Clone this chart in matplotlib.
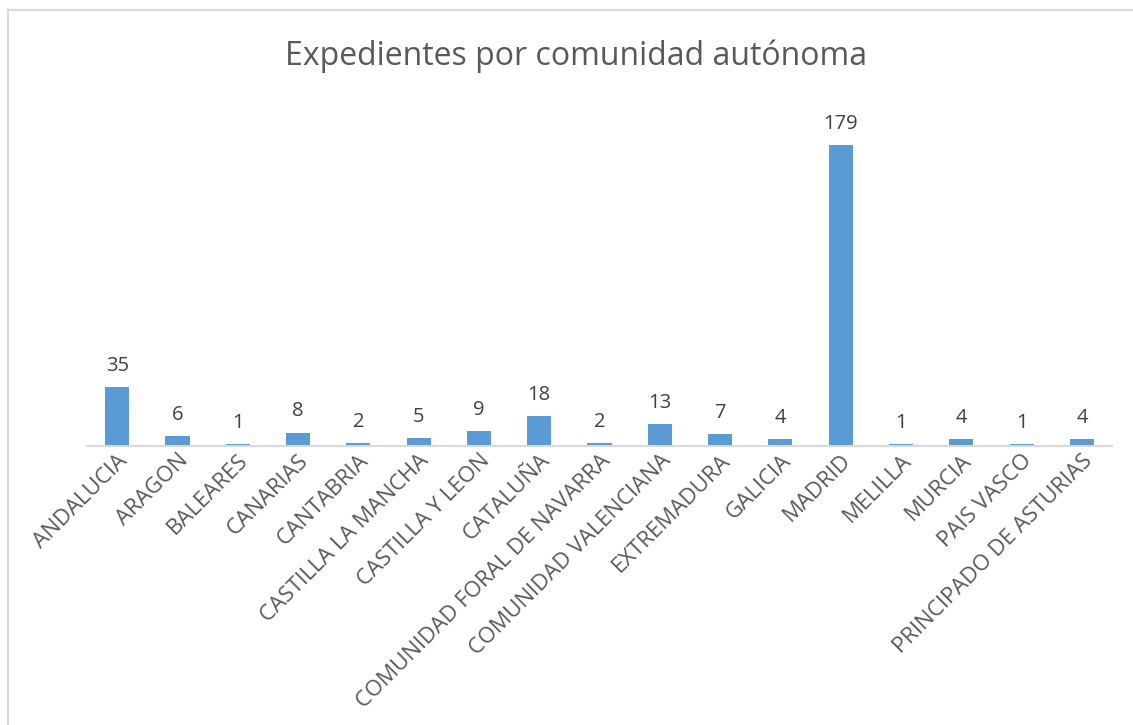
import matplotlib.pyplot as plt
import numpy as np

comunidades = ["ANDALUCIA", "ARAGON", "BALEARES", "CANARIAS", "CANTABRIA",
               "CASTILLA LA MANCHA", "CASTILLA Y LEON", "CATALUÑA",
               "COMUNIDAD FORAL DE NAVARRA", "COMUNIDAD VALENCIANA",
               "EXTREMADURA", "GALICIA", "MADRID", "MELILLA", "MURCIA",
               "PAIS VASCO", "PRINCIPADO DE ASTURIAS"]
expedientes = [35, 6, 1, 8, 2, 5, 9, 18, 2, 13, 7, 4, 179, 1, 4, 1, 4]

plt.rcParams['font.family'] = ['Open Sans', 'DejaVu Sans']

fig = plt.figure(figsize=(11.33, 7.25), dpi=100)
ax = fig.add_axes([0.0768, 0.3848, 0.9047, 0.4635])

x = np.arange(len(comunidades))
bars = ax.bar(x, expedientes, width=0.4, color="#5B9BD5")
ax.bar_label(bars, padding=8, fontsize=14.5, color="#404040")

ax.set_xlim(-0.5, len(comunidades) - 0.5)
ax.set_ylim(0, 200)
ax.set_xticks(x)
ax.set_xticklabels(comunidades, rotation=45, ha='right', rotation_mode='anchor',
                   fontsize=16, color="#595959")
ax.tick_params(axis='x', length=0, pad=3)
ax.set_yticks([])
for s in ['top', 'right', 'left']:
    ax.spines[s].set_visible(False)
ax.spines['bottom'].set_color("#D9D9D9")
ax.spines['bottom'].set_linewidth(1.5)

fig.text(0.508, 0.922, "Expedientes por comunidad autónoma", ha='center', va='center',
         fontsize=23, color="#595959")

# borde del grafico (solo arriba e izquierda se ven)
fig.add_artist(plt.Line2D([8/1133, 8/1133], [0, 1 - 10/725], color="#D9D9D9", lw=1.5))
fig.add_artist(plt.Line2D([8/1133, 1], [1 - 10/725, 1 - 10/725], color="#D9D9D9", lw=1.5))

fig.savefig("out.png", dpi=100)
